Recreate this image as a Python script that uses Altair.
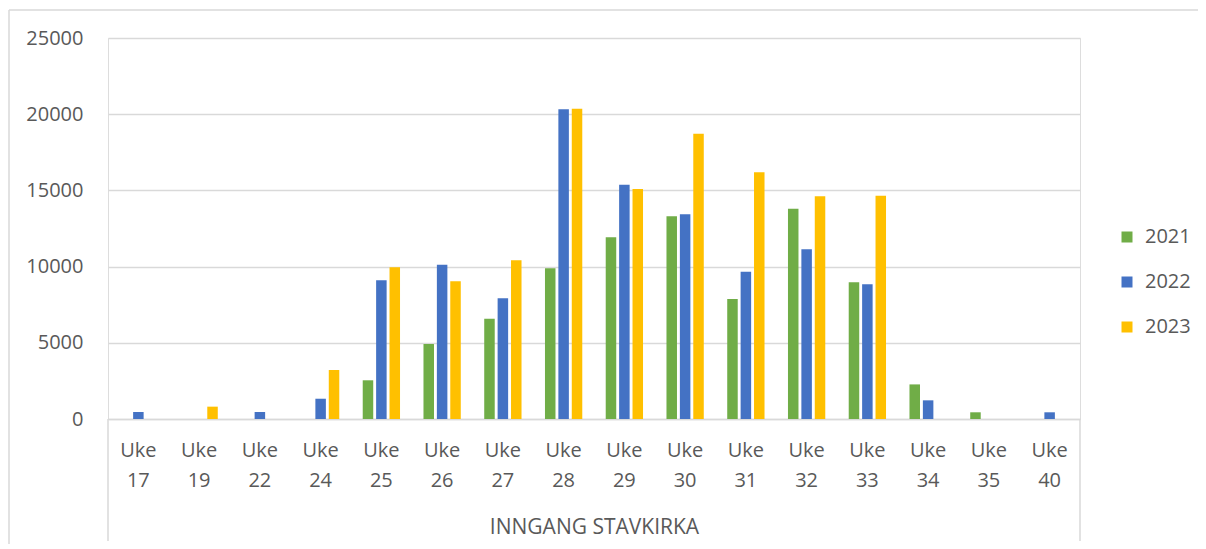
import altair as alt
import pandas as pd

weeks = ["17", "19", "22", "24", "25", "26", "27", "28", "29", "30", "31", "32", "33", "34", "35", "40"]
years = ["2021", "2022", "2023"]
v2021 = [0, 0, 0, 0, 2540, 4920, 6580, 9890, 11920, 13300, 7870, 13800, 8970, 2270, 440, 0]
v2022 = [460, 0, 460, 1330, 9100, 10120, 7920, 20320, 15375, 13430, 9665, 11135, 8840, 1225, 0, 440]
v2023 = [0, 810, 0, 3215, 9950, 9035, 10410, 20360, 15090, 18720, 16190, 14610, 14650, 0, 0, 0]
colors = ["#70AD47", "#4472C4", "#FFC000"]
category_title = "INNGANG STAVKIRKA"

rows = []
for y, vals in zip(years, [v2021, v2022, v2023]):
    for w, v in zip(weeks, vals):
        rows.append({"uke": "Uke " + w, "year": y, "value": v})
df = pd.DataFrame(rows)
order = ["Uke " + w for w in weeks]

FONT = "Open Sans"
TXT = "#595959"
GRID = "#d9d9d9"
W, H = 972, 381

bars = alt.Chart(df).mark_bar().encode(
    x=alt.X("uke:N", sort=order, title=category_title,
            scale=alt.Scale(paddingInner=0.386, paddingOuter=0.193),
            axis=alt.Axis(labelExpr="split(datum.label, ' ')", labelAngle=0,
                          labelFontSize=20, labelColor=TXT, labelFont=FONT,
                          labelBaseline="top", labelPadding=21, labelLineHeight=30,
                          ticks=False, domainColor=GRID, domainWidth=1.5,
                          titleFontSize=21, titleFont=FONT, titleFontWeight="normal",
                          titleColor=TXT, titleY=108, titleBaseline="middle")),
    xOffset=alt.XOffset("year:N", scale=alt.Scale(paddingInner=0.216, paddingOuter=0)),
    y=alt.Y("value:Q", title=None,
            scale=alt.Scale(domain=[0, 25000], nice=False),
            axis=alt.Axis(values=[0, 5000, 10000, 15000, 20000, 25000], format="d",
                          labelFontSize=20, labelColor=TXT, labelFont=FONT,
                          labelPadding=25, ticks=False, domain=False,
                          gridColor=GRID, gridWidth=1.5)),
    color=alt.Color("year:N", scale=alt.Scale(domain=years, range=colors),
                    legend=alt.Legend(title=None, orient="none", legendX=1009, legendY=189,
                                      symbolType="square", symbolSize=121,
                                      symbolStrokeWidth=0, labelFontSize=20,
                                      labelFont=FONT, labelColor=TXT, labelOffset=8,
                                      rowPadding=25)),
)

sep = pd.DataFrame({"k": [0]})
left_rule = alt.Chart(sep).mark_rule(color=GRID, strokeWidth=1.5).encode(
    x=alt.value(0), y=alt.value(H), y2=alt.value(H + 122))
right_rule = alt.Chart(sep).mark_rule(color=GRID, strokeWidth=1.5).encode(
    x=alt.value(W), y=alt.value(H), y2=alt.value(H + 122))
border_top = alt.Chart(sep).mark_rule(color=GRID, strokeWidth=1.5).encode(
    x=alt.value(-99), x2=alt.value(W + 118), y=alt.value(-28))
border_left = alt.Chart(sep).mark_rule(color=GRID, strokeWidth=1.5).encode(
    x=alt.value(-99), y=alt.value(-28), y2=alt.value(H + 130))

chart = alt.layer(bars, left_rule, right_rule, border_top, border_left).properties(
    width=W, height=H,
    padding={"left": 100, "top": 30, "right": 118, "bottom": 125},
    autosize=alt.AutoSizeParams(type="none"),
).configure_view(stroke=None).configure(font=FONT)

chart.save("out.html", embed_options={"renderer": "svg", "actions": False})
